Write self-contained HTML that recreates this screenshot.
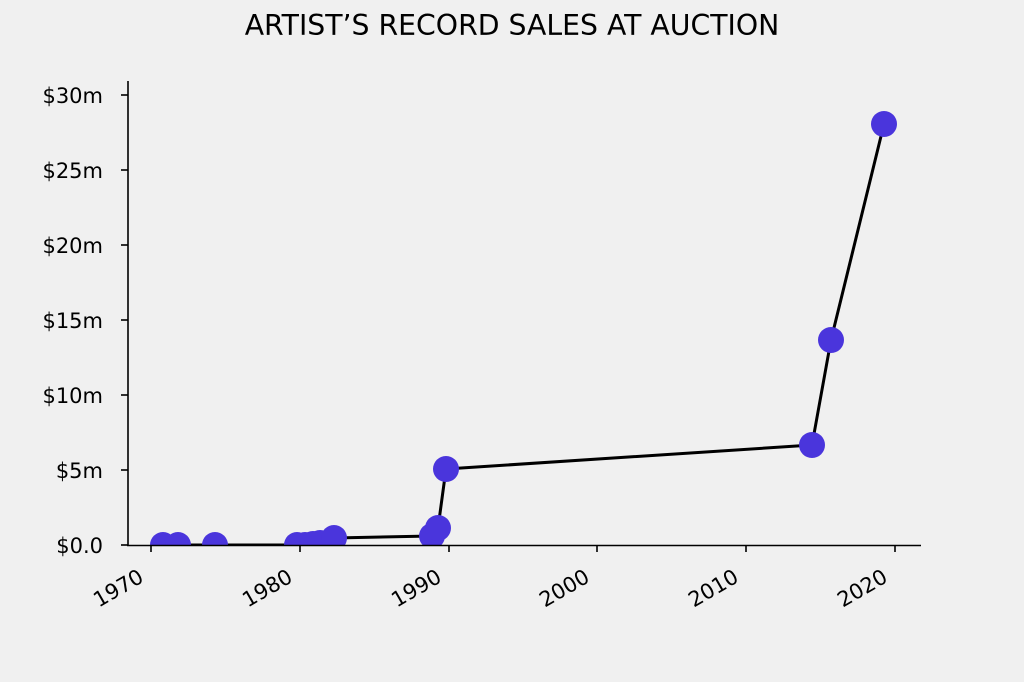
<!DOCTYPE html>
<html><head><style>
body{margin:0;background:#f0f0f0;}
svg{display:block;font-family:"DejaVu Sans","Liberation Sans",sans-serif;}
</style></head><body>
<svg width="1024" height="682" viewBox="0 0 1024 682">
<rect width="1024" height="682" fill="#f0f0f0"/>
<text x="512" y="35" text-anchor="middle" font-size="28.3" fill="#000">ARTIST’S RECORD SALES AT AUCTION</text>
<defs><clipPath id="c"><rect x="128" y="60" width="800" height="485.5"/></clipPath></defs>
<g clip-path="url(#c)">
<polyline fill="none" stroke="#000" stroke-width="3" stroke-linejoin="round" points="163,545 178,545 215,545 297,545 305,545 313,544 320,543 334,538 432,536 438,528 446,469 812,445 831,340 884,124"/>
<g fill="#4a35dc">
<circle cx="163" cy="545" r="13"/><circle cx="178" cy="545" r="13"/><circle cx="215" cy="545" r="13"/>
<circle cx="297" cy="545" r="13"/><circle cx="305" cy="545" r="13"/><circle cx="313" cy="544" r="13"/><circle cx="320" cy="543" r="13"/><circle cx="334" cy="538" r="13"/>
<circle cx="432" cy="536" r="13"/><circle cx="438" cy="528" r="13"/><circle cx="446" cy="469" r="13"/>
<circle cx="812" cy="445" r="13"/><circle cx="831" cy="340" r="13"/><circle cx="884" cy="124" r="13"/>
</g></g>
<g stroke="#000" stroke-width="1.6" fill="none">
<line x1="128" y1="81" x2="128" y2="546"/>
<line x1="127" y1="545.5" x2="921" y2="545.5"/>
<line x1="121" y1="545" x2="128" y2="545"/><line x1="121" y1="470" x2="128" y2="470"/><line x1="121" y1="395" x2="128" y2="395"/><line x1="121" y1="320" x2="128" y2="320"/><line x1="121" y1="245" x2="128" y2="245"/><line x1="121" y1="170" x2="128" y2="170"/><line x1="121" y1="95" x2="128" y2="95"/>
<line x1="151" y1="545" x2="151" y2="552"/><line x1="300" y1="545" x2="300" y2="552"/><line x1="449" y1="545" x2="449" y2="552"/><line x1="597" y1="545" x2="597" y2="552"/><line x1="746" y1="545" x2="746" y2="552"/><line x1="895" y1="545" x2="895" y2="552"/>
</g>
<g font-size="21" fill="#000" text-anchor="end">
<text x="103" y="553">$0.0</text><text x="103" y="478">$5m</text><text x="103" y="403">$10m</text><text x="103" y="328">$15m</text><text x="103" y="253">$20m</text><text x="103" y="178">$25m</text><text x="103" y="103">$30m</text>
</g>
<g font-size="21" fill="#000" text-anchor="end">
<text transform="translate(145,581) rotate(-30)">1970</text>
<text transform="translate(294,581) rotate(-30)">1980</text>
<text transform="translate(443,581) rotate(-30)">1990</text>
<text transform="translate(591,581) rotate(-30)">2000</text>
<text transform="translate(740,581) rotate(-30)">2010</text>
<text transform="translate(889,581) rotate(-30)">2020</text>
</g>
</svg>
</body></html>
